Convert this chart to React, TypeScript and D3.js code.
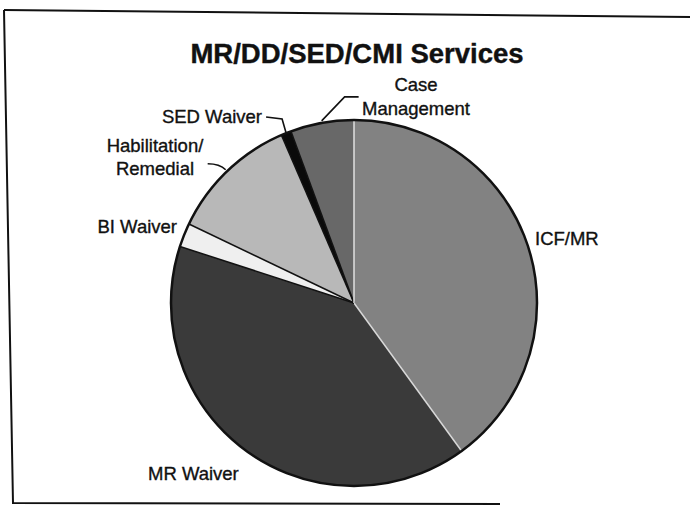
import React from 'react';
import * as d3 from 'd3';

// slice data, clockwise from 12 o'clock
const categories = ['ICF/MR', 'MR Waiver', 'BI Waiver', 'Habilitation/Remedial', 'SED Waiver', 'Case Management'];
const shares = [40.0, 40.0, 2.1, 11.4, 0.9, 5.6];
const fills = ['#828282', '#3a3a3a', '#efefef', '#b8b8b8', '#0a0a0a', '#686868'];
// boundary line colour after each slice (between slice i and i+1)
const edgeColors = ['#d8d8d8', '#111', '#111', '#111', '#111', '#e0e0e0'];

const W = 690;
const H = 509;
const cx = 354;
const cy = 303;
const r = 183;

const App = () => {
  const pie = d3.pie<number>().sort(null).value(d => d);
  const arcs = pie(shares);
  const arc = d3.arc<d3.PieArcDatum<number>>().innerRadius(0).outerRadius(r);

  const pt = (a: number, rad: number) => [Math.sin(a) * rad, -Math.cos(a) * rad];

  // leader line helpers (from the slice's outer edge to the label)
  const mid = (i: number) => (arcs[i].startAngle + arcs[i].endAngle) / 2;
  const [smx, smy] = pt(mid(4), r);
  const [cmx, cmy] = pt(mid(5), r + 2);
  const [hbx, hby] = pt(mid(3), r + 2);

  const font = "'Liberation Sans', Arial, sans-serif";

  return (
    <div style={{ position: 'absolute', left: 0, top: 0 }}>
      <svg width={W} height={H} style={{ display: 'block', background: '#fff' }}>
        {/* scanned frame */}
        <path d={`M4,10 L${W},17`} fill="none" stroke="#111" strokeWidth={2} />
        <path d={`M4,10 L13,503 L500,504`} fill="none" stroke="#111" strokeWidth={2} />

        <text x={357} y={63} textAnchor="middle" fontFamily={font} fontWeight="bold" fontSize={27.5}
          fill="#111" stroke="#111" strokeWidth={0.4}>
          MR/DD/SED/CMI Services
        </text>

        <g transform={`translate(${cx},${cy})`}>
          {arcs.map((a, i) => (
            <path key={categories[i]} d={arc(a) || ''} fill={fills[i]} />
          ))}
          {arcs.map((a, i) => {
            const [x, y] = pt(a.endAngle, r);
            return <line key={'e' + i} x1={0} y1={0} x2={x} y2={y} stroke={edgeColors[i]} strokeWidth={1.5} />;
          })}
          <circle r={r} fill="none" stroke="#111" strokeWidth={2.5} />

          {/* leaders */}
          <path d={`M${smx},${smy} L${smx - 4},${smy - 14} L${smx - 20},${smy - 16}`} fill="none" stroke="#111" strokeWidth={1.6} />
          <path d={`M${cmx},${cmy} L${cmx + 23},${cmy - 24} L${cmx + 37},${cmy - 24}`} fill="none" stroke="#111" strokeWidth={1.6} />
          <path d={`M${hbx},${hby} Q${hbx - 6},${hby - 6} ${hbx - 18},${hby - 6}`} fill="none" stroke="#111" strokeWidth={1.6} />
        </g>

        <g fontFamily={font} fontSize={18.5} fill="#111" stroke="#111" strokeWidth={0.35}>
          <text x={416} y={91} textAnchor="middle">Case</text>
          <text x={416} y={115} textAnchor="middle">Management</text>
          <text x={262} y={123} textAnchor="end">SED Waiver</text>
          <text x={155} y={152} textAnchor="middle">Habilitation/</text>
          <text x={155} y={175} textAnchor="middle">Remedial</text>
          <text x={177} y={233} textAnchor="end">BI Waiver</text>
          <text x={535} y={245}>ICF/MR</text>
          <text x={148} y={480}>MR Waiver</text>
        </g>
      </svg>
    </div>
  );
};

export default App;
